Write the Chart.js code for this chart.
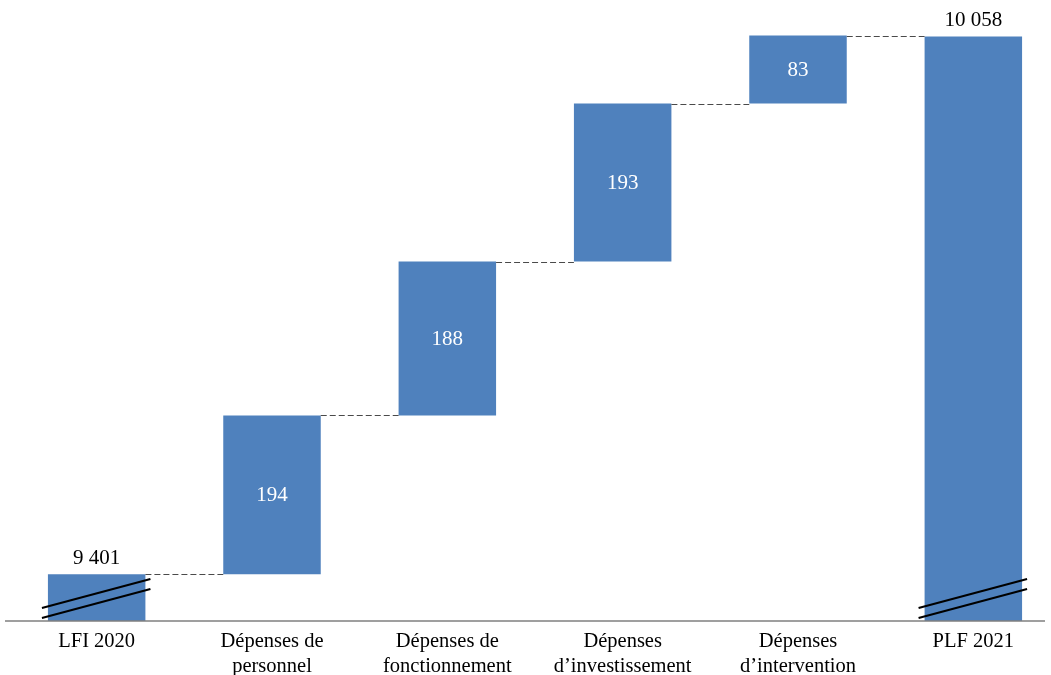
<!DOCTYPE html>
<html lang="fr">
<head>
<meta charset="utf-8">
<title>Évolution des crédits : LFI 2020 - PLF 2021</title>
<script src="https://cdn.jsdelivr.net/npm/chart.js@4/dist/chart.umd.min.js"></script>
<style>
  html, body { margin: 0; padding: 0; background: #ffffff; overflow: hidden; }
  #wrap { position: relative; width: 1070px; height: 675px; }
</style>
</head>
<body>
<div id="wrap"><canvas id="chart"></canvas></div>
<script>
// Catégories (libellés sur deux lignes)
const categories = [
  ['LFI 2020'],
  ['Dépenses de', 'personnel'],
  ['Dépenses de', 'fonctionnement'],
  ['Dépenses', 'd\u2019investissement'],
  ['Dépenses', 'd\u2019intervention'],
  ['PLF 2021']
];
// Montants (M€)
const startTotal = 9401;
const deltas = [194, 188, 193, 83];
const endTotal = 10058;
// Bornes de l'axe vertical (axe rompu)
const axisFloor = 9344;
const axisCeil = 10100;

// Construction des barres flottantes de la cascade
const bars = [];
const labels = [];
bars.push([axisFloor, startTotal]);
labels.push('9 401');
let running = startTotal;
deltas.forEach(d => {
  bars.push([running, running + d]);
  labels.push(String(d));
  running += d;
});
bars.push([axisFloor, endTotal]);
labels.push('10 058');
const isTotal = bars.map((b, i) => i === 0 || i === bars.length - 1);

const FONT = "'Liberation Serif', 'Times New Roman', serif";

const waterfallDecor = {
  id: 'waterfallDecor',
  afterDatasetsDraw(chart) {
    const ctx = chart.ctx;
    const meta = chart.getDatasetMeta(0);
    const y = chart.scales.y;
    const axisY = y.getPixelForValue(axisFloor);

    ctx.save();
    // Lignes pointillées de liaison entre les barres
    ctx.strokeStyle = '#4a4a4a';
    ctx.lineWidth = 1;
    ctx.setLineDash([6, 3]);
    for (let i = 0; i < bars.length - 1; i++) {
      const a = meta.data[i], b = meta.data[i + 1];
      const py = Math.round(y.getPixelForValue(bars[i][1])) + 0.5;
      ctx.beginPath();
      ctx.moveTo(a.x + a.width / 2, py);
      ctx.lineTo(b.x - b.width / 2, py);
      ctx.stroke();
    }
    ctx.setLineDash([]);

    // Axe horizontal
    ctx.strokeStyle = '#7f7f7f';
    ctx.lineWidth = 1.5;
    ctx.beginPath();
    ctx.moveTo(5, axisY);
    ctx.lineTo(1045, axisY);
    ctx.stroke();

    // Marques de rupture d'axe sur les barres de total
    ctx.strokeStyle = '#000000';
    ctx.lineWidth = 2;
    meta.data.forEach((el, i) => {
      if (!isTotal[i]) return;
      const x0 = el.x - el.width / 2 - 6;
      const x1 = el.x + el.width / 2 + 5;
      [0, 10].forEach(off => {
        ctx.beginPath();
        ctx.moveTo(x0, axisY - 13 + off);
        ctx.lineTo(x1, axisY - 42 + off);
        ctx.stroke();
      });
    });

    // Étiquettes de valeur
    ctx.font = '21px ' + FONT;
    ctx.textAlign = 'center';
    ctx.textBaseline = 'middle';
    meta.data.forEach((el, i) => {
      const top = y.getPixelForValue(bars[i][1]);
      if (isTotal[i]) {
        ctx.fillStyle = '#000000';
        ctx.fillText(labels[i], el.x, top - 16);
      } else {
        const bottom = y.getPixelForValue(bars[i][0]);
        ctx.fillStyle = '#ffffff';
        ctx.fillText(labels[i], el.x, (top + bottom) / 2 + 1);
      }
    });
    ctx.restore();
  }
};

new Chart(document.getElementById('chart'), {
  type: 'bar',
  data: {
    labels: categories,
    datasets: [{
      data: bars,
      backgroundColor: '#4f81bd',
      borderWidth: 0,
      categoryPercentage: 1,
      barPercentage: 0.556
    }]
  },
  options: {
    responsive: true,
    maintainAspectRatio: false,
    animation: false,
    events: [],
    layout: { padding: { left: 9, right: 9, top: 2, bottom: 0 } },
    plugins: {
      legend: { display: false },
      tooltip: { enabled: false },
      title: { display: false }
    },
    scales: {
      x: {
        grid: { display: false, drawTicks: false },
        border: { display: false },
        ticks: {
          color: '#000000',
          font: { family: FONT, size: 20.5, lineHeight: 1.22 },
          padding: 8,
          maxRotation: 0,
          autoSkip: false
        },
        afterFit(scale) { scale.height = 54; }
      },
      y: {
        display: false,
        min: axisFloor,
        max: axisCeil
      }
    }
  },
  plugins: [waterfallDecor]
});
</script>
</body>
</html>
